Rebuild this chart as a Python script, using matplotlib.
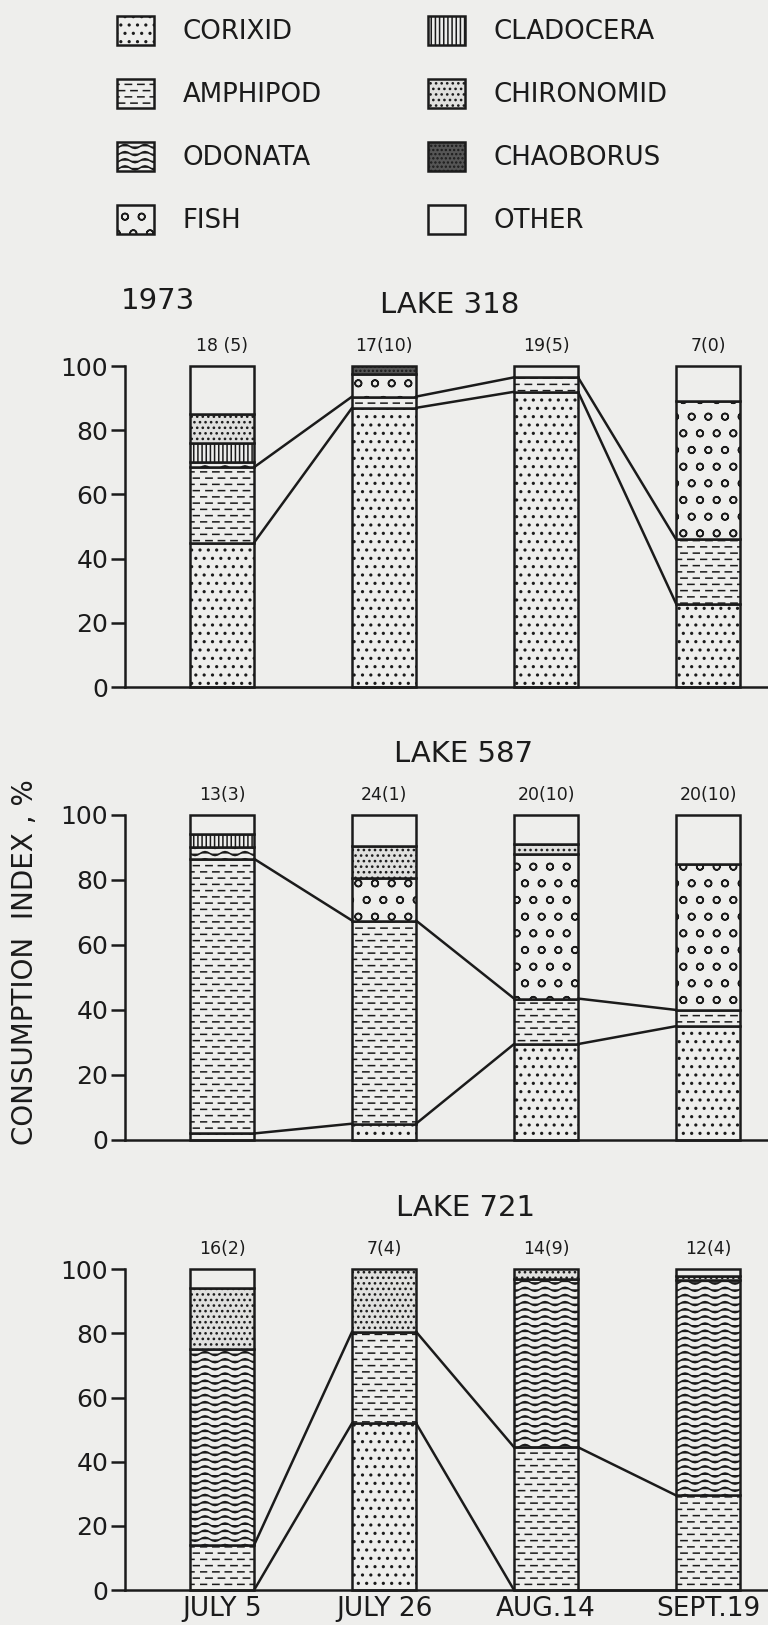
import warnings
import numpy as np
import matplotlib
matplotlib.use("Agg")
import matplotlib.pyplot as plt
import matplotlib.hatch as mhatch
from matplotlib.path import Path
from matplotlib.patches import Patch

warnings.filterwarnings("ignore", message="hatch must consist")

# ---- data (percent of consumption index, stacked from the bottom) ----
dates = ["JULY 5", "JULY 26", "AUG.14", "SEPT.19"]
prey = ["CORIXID", "AMPHIPOD", "ODONATA", "FISH",
        "CLADOCERA", "CHIRONOMID", "CHAOBORUS", "OTHER"]

lake318_counts = ["18 (5)", "17(10)", "19(5)", "7(0)"]
lake318_pct = [
    [45, 87, 92, 26],      # corixid
    [23.5, 3.5, 4.5, 20],  # amphipod
    [1.5, 0, 0, 0],        # odonata
    [0, 7, 0, 43],         # fish
    [6, 0, 0, 0],          # cladocera
    [9, 0, 0, 0],          # chironomid
    [0, 2.5, 0, 0],        # chaoborus
    [15, 0, 3.5, 11],      # other
]

lake587_counts = ["13(3)", "24(1)", "20(10)", "20(10)"]
lake587_pct = [
    [2, 5, 29.5, 35],
    [84.5, 62.5, 14, 5],
    [3.5, 0, 0, 0],
    [0, 13, 44.5, 45],
    [4, 0, 0, 0],
    [0, 10, 3, 0],
    [0, 0, 0, 0],
    [6, 9.5, 9, 15],
]

lake721_counts = ["16(2)", "7(4)", "14(9)", "12(4)"]
lake721_pct = [
    [0, 52, 0, 0],
    [14, 28.5, 44.5, 29.5],
    [61, 0, 52.5, 67],
    [0, 0, 0, 0],
    [0, 0, 0, 0],
    [19, 19.5, 3, 1.5],
    [0, 0, 0, 0],
    [6, 0, 0, 2],
]

lake_names = ["LAKE 318", "LAKE 587", "LAKE 721"]


# ---- extra hatch textures: dashed rows and wavy rows ----
class DashHatch(mhatch.HatchPatternBase):
    rows_per_unit = 16
    dashes_per_row = 8

    def __init__(self, hatch, density):
        self.num_rows = hatch.count('_') * self.rows_per_unit
        self.num_vertices = self.num_rows * self.dashes_per_row * 2

    def set_vertices_and_codes(self, vertices, codes):
        period = 1.0 / self.dashes_per_row
        k = 0
        for r in range(self.num_rows):
            y = (r + 0.5) / self.num_rows
            shift = 0.45 * period if r % 2 else 0.0
            for d in range(self.dashes_per_row):
                x0 = d * period + shift + 0.02 * period
                vertices[k] = (x0, y)
                vertices[k + 1] = (x0 + 0.5 * period, y)
                codes[k] = Path.MOVETO
                codes[k + 1] = Path.LINETO
                k += 2


class WavyHatch(mhatch.HatchPatternBase):
    rows_per_unit = 14
    waves = 5
    steps = 40

    def __init__(self, hatch, density):
        self.num_rows = hatch.count('~') * self.rows_per_unit
        self.num_vertices = self.num_rows * (self.steps + 1)

    def set_vertices_and_codes(self, vertices, codes):
        xs = np.linspace(0.0, 1.0, self.steps + 1)
        n = self.steps + 1
        for r in range(self.num_rows):
            y = (r + 0.5) / self.num_rows
            seg = slice(r * n, (r + 1) * n)
            vertices[seg, 0] = xs
            vertices[seg, 1] = y + 0.28 / self.num_rows * np.sin(2 * np.pi * self.waves * xs)
            codes[seg] = Path.LINETO
            codes[r * n] = Path.MOVETO


mhatch._hatch_types.append(DashHatch)
mhatch._hatch_types.append(WavyHatch)

paper = "#eeeeec"
ink = "#1b1b1b"

styles = {
    "CORIXID": (paper, ".."),
    "AMPHIPOD": (paper, "_"),
    "ODONATA": (paper, "~"),
    "FISH": (paper, "o"),
    "CLADOCERA": (paper, "||||"),
    "CHIRONOMID": ("#e0e0de", "..."),
    "CHAOBORUS": ("#555555", "...."),
    "OTHER": (paper, None),
}

plt.rcParams["font.family"] = ["DejaVu Sans"]
plt.rcParams["text.color"] = ink
plt.rcParams["hatch.linewidth"] = 1.1
plt.rcParams["hatch.color"] = ink

fig = plt.figure(figsize=(7.68, 16.25), dpi=100, facecolor=paper)

panel_rects = [[0.1628, 0.5772, 0.8372, 0.1975],
               [0.1628, 0.2985, 0.8372, 0.2000],
               [0.1628, 0.0215, 0.8372, 0.1975]]
title_x = [0.505, 0.526, 0.53]
bar_w = 0.395

panels = [(lake318_pct, lake318_counts), (lake587_pct, lake587_counts),
          (lake721_pct, lake721_counts)]

for n, (pct, counts) in enumerate(panels):
    ax = fig.add_axes(panel_rects[n])
    ax.set_facecolor("none")
    x = np.arange(len(dates))
    bottom = np.zeros(len(dates))
    for name, vals in zip(prey, pct):
        vals = np.asarray(vals, dtype=float)
        keep = vals > 0
        fc, h = styles[name]
        ax.bar(x[keep], vals[keep], width=bar_w, bottom=bottom[keep],
               color=fc, edgecolor=ink, linewidth=1.8, hatch=h,
               clip_on=False, zorder=2)
        bottom += vals

    # connecting lines: top of corixid and top of amphipod
    corixid_top = np.asarray(pct[0], dtype=float)
    amph_top = corixid_top + np.asarray(pct[1], dtype=float)
    for tops in (corixid_top, amph_top):
        for i in range(len(x) - 1):
            ax.plot([x[i] + bar_w / 2, x[i + 1] - bar_w / 2], [tops[i], tops[i + 1]],
                    color=ink, lw=1.8, solid_capstyle="round", clip_on=False, zorder=3)

    for i, c in enumerate(counts):
        ax.annotate(c, (x[i], 100), xytext=(0, 8), textcoords="offset points",
                    ha="center", va="bottom", fontsize=12.5)

    ax.annotate(lake_names[n], (title_x[n], 1), xycoords="axes fraction",
                xytext=(0, 44), textcoords="offset points",
                ha="center", va="center", fontsize=21)

    ax.set_xlim(-0.599, 3.37)
    ax.set_ylim(0, 100)
    ax.spines[["top", "right"]].set_visible(False)
    ax.spines["left"].set_bounds(0, 100)
    for s in ("left", "bottom"):
        ax.spines[s].set_linewidth(1.8)
        ax.spines[s].set_color(ink)
    ax.set_yticks(range(0, 101, 20))
    ax.tick_params(axis="y", length=10, width=1.8, labelsize=18, pad=2,
                   colors=ink)
    ax.set_xticks(x)
    if n == len(panels) - 1:
        ax.set_xticklabels(dates, fontsize=19)
    else:
        ax.set_xticklabels([])
    ax.tick_params(axis="x", length=0, pad=4, colors=ink)

fig.text(121 / 768, 1 - 301 / 1625, "1973", fontsize=21, va="center")
fig.text(25 / 768, 1 - 962 / 1625, "CONSUMPTION  INDEX , %", rotation=90,
         ha="center", va="center", fontsize=20)

handles = [Patch(facecolor=styles[p][0], edgecolor=ink, linewidth=1.8,
                 hatch=styles[p][1]) for p in prey]
fig.legend(handles, prey, ncol=2, loc="upper left",
           bbox_to_anchor=(117 / 768, 1 - 16 / 1625), frameon=False,
           fontsize=18.7, handlelength=1.42, handleheight=1.35,
           handletextpad=1.1, labelspacing=1.3, columnspacing=4.1,
           borderpad=0, borderaxespad=0)

fig.savefig("out.png", dpi=100, facecolor=paper)
